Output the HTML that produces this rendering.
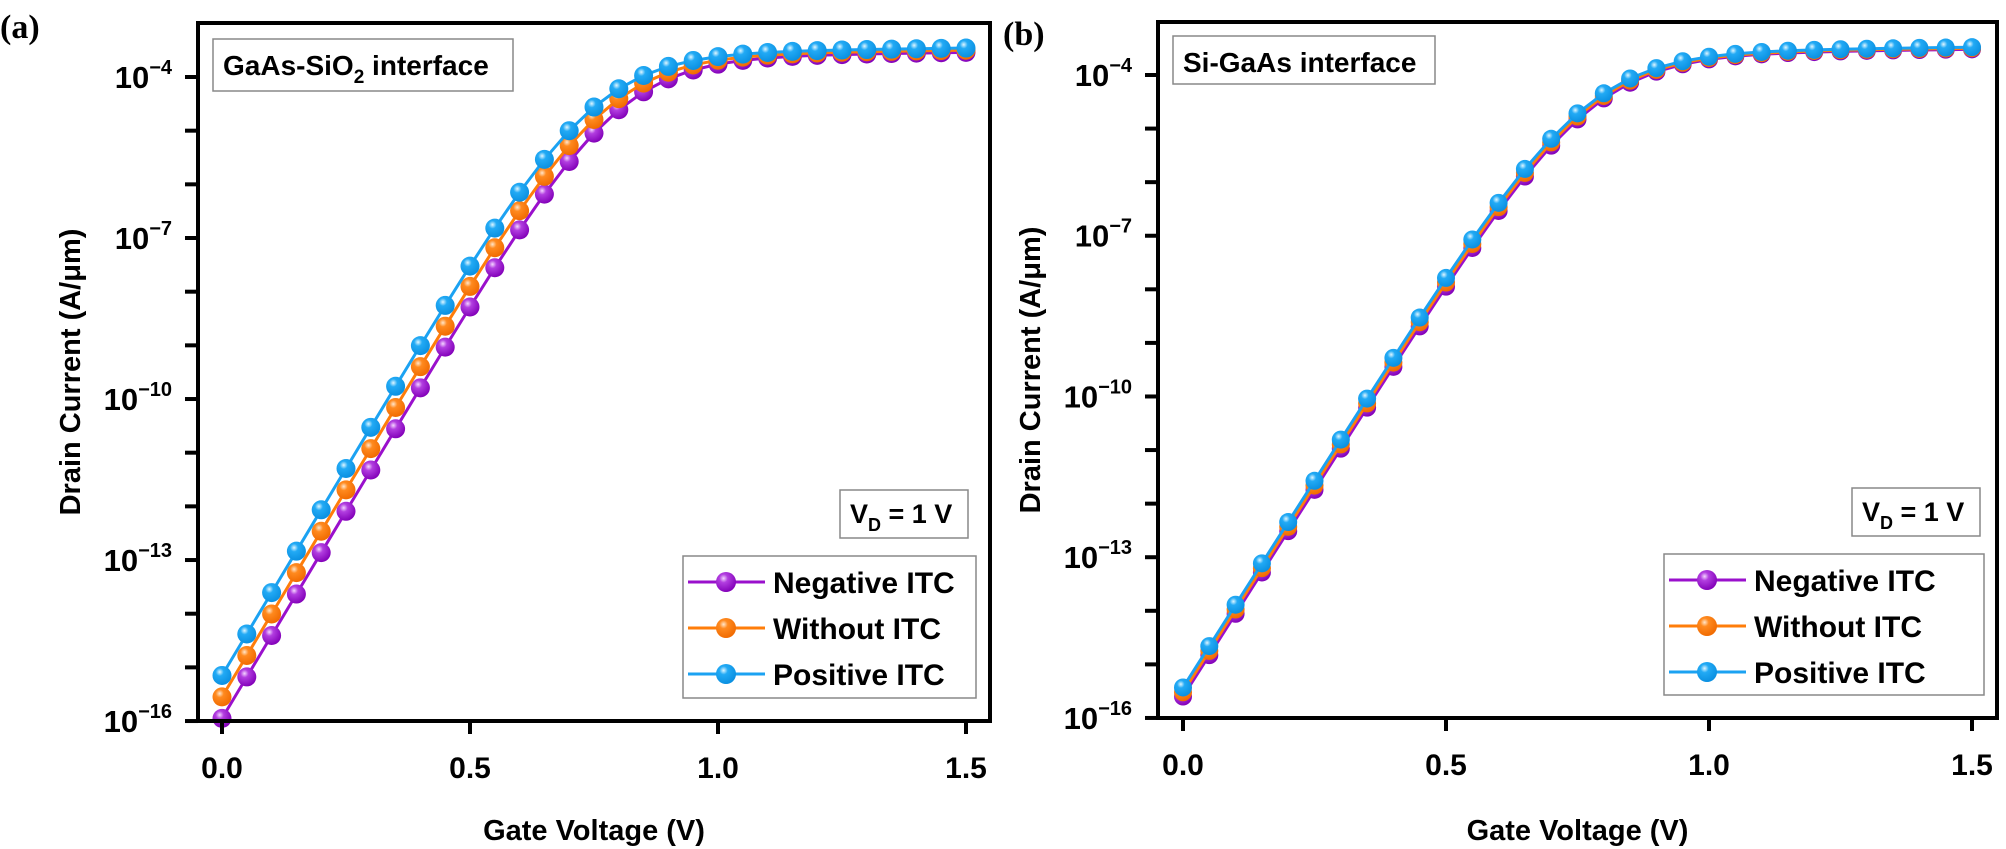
<!DOCTYPE html>
<html><head><meta charset="utf-8"><style>
html,body{margin:0;padding:0;background:#fff;}
svg{display:block;font-family:"Liberation Sans",Arial,sans-serif;font-weight:bold;}
</style></head><body>
<svg id="s" width="2006" height="849" viewBox="0 0 2006 849" xmlns="http://www.w3.org/2000/svg">
<defs>
<radialGradient id="gp" cx="0.38" cy="0.32" r="0.7"><stop offset="0" stop-color="#f4d6ff"/><stop offset="0.3" stop-color="#b23ee0"/><stop offset="1" stop-color="#8200b8"/></radialGradient>
<radialGradient id="go" cx="0.38" cy="0.32" r="0.7"><stop offset="0" stop-color="#ffe6cc"/><stop offset="0.3" stop-color="#ff8a1f"/><stop offset="1" stop-color="#f06a00"/></radialGradient>
<radialGradient id="gb" cx="0.38" cy="0.32" r="0.7"><stop offset="0" stop-color="#e0f6ff"/><stop offset="0.3" stop-color="#22aaf5"/><stop offset="1" stop-color="#0a8fe0"/></radialGradient>
</defs>
<text x="0" y="38" font-family="Liberation Serif,serif" font-size="34" font-weight="bold">(a)</text>
<text x="1003" y="45" font-family="Liberation Serif,serif" font-size="34" font-weight="bold">(b)</text>
<g id="pa"></g><g id="pb"></g>
</svg>
<script>
var NS="http://www.w3.org/2000/svg";
function el(p,t,a,txt){var e=document.createElementNS(NS,t);for(var k in a)e.setAttribute(k,a[k]);if(txt!==undefined)e.textContent=txt;p.appendChild(e);return e;}
function model(V,b,sat){var sub=b+15.45*V;var L=sat+0.12*V;var a=Math.pow(10,-0.3*sub),c=Math.pow(10,-0.3*L);return -Math.log10(a+c)/0.3;}
function panel(g,P){
 var X=function(v){return P.x0+v*P.sx;},Y=function(L){return P.y4+(-4-L)*P.sy;};
 el(g,"rect",{x:P.tb[0],y:P.tb[1],width:P.tb[2],height:P.tb[3],fill:"#fff",stroke:"#888","stroke-width":1.5});
 var t=el(g,"text",{x:P.tb[0]+10,y:P.tb[1]+36,"font-size":28});
 t.innerHTML=P.title;
 var cols=[["#9a10cc","url(#gp)"],["#ff7d0a","url(#go)"],["#1ba2f2","url(#gb)"]];
 for(var s=0;s<3;s++){
  var pts=[];for(var i=0;i<=30;i++){var v=i*0.05;pts.push([X(v),Y(model(v,P.b[s],P.sat[s]))]);}
  el(g,"polyline",{points:pts.map(function(p){return p[0].toFixed(1)+","+p[1].toFixed(1)}).join(" "),fill:"none",stroke:cols[s][0],"stroke-width":3});
  pts.forEach(function(p){el(g,"circle",{cx:p[0],cy:p[1],r:P.r,fill:cols[s][1]});});
 }
 el(g,"rect",{x:P.L,y:P.T,width:P.R-P.L,height:P.B-P.T,fill:"none",stroke:"#000","stroke-width":4});
 for(var d=-16;d<=-4;d++){var y=Y(d);el(g,"line",{x1:P.L-13,x2:P.L,y1:y,y2:y,stroke:"#000","stroke-width":4});
  if((d+16)%3==0){var tt=el(g,"text",{x:P.L-26,y:y+11,"font-size":31,"text-anchor":"end"});tt.innerHTML='10<tspan dy="-14" font-size="20">\u2212'+(-d)+'</tspan>';}}
 [0,0.5,1,1.5].forEach(function(v){var x=X(v);el(g,"line",{x1:x,x2:x,y1:P.B,y2:P.B+13,stroke:"#000","stroke-width":4});
  el(g,"text",{x:x,y:P.B+57,"font-size":30,"text-anchor":"middle"},v.toFixed(1));});
 el(g,"text",{x:(X(0)+X(1.5))/2,y:840,"font-size":29,"text-anchor":"middle"},"Gate Voltage (V)");
 var yt=el(g,"text",{x:0,y:0,"font-size":29,"text-anchor":"middle",transform:"translate("+(P.L-118)+","+((P.T+P.B)/2)+") rotate(-90)"});
 yt.innerHTML='Drain Current (A/\u03bcm)';
 el(g,"rect",{x:P.vd[0],y:P.vd[1],width:P.vd[2],height:P.vd[3],fill:"#fff",stroke:"#888","stroke-width":1.5});
 var vt=el(g,"text",{x:P.vd[0]+10,y:P.vd[1]+33,"font-size":27});vt.innerHTML='V<tspan dy="8" font-size="18">D</tspan><tspan dy="-8"> = 1 V</tspan>';
 var lg=P.lg;el(g,"rect",{x:lg[0],y:lg[1],width:lg[2],height:lg[3],fill:"#fff",stroke:"#888","stroke-width":1.5});
 var names=["Negative ITC","Without ITC","Positive ITC"];
 for(var s=0;s<3;s++){var yy=lg[1]+26+s*46;
  el(g,"line",{x1:lg[0]+5,x2:lg[0]+82,y1:yy,y2:yy,stroke:cols[s][0],"stroke-width":3});
  el(g,"circle",{cx:lg[0]+43,cy:yy,r:10,fill:cols[s][1]});
  el(g,"text",{x:lg[0]+90,y:yy+11,"font-size":30},names[s]);}
}
panel(document.getElementById("pa"),{L:198,T:23,R:990,B:721,x0:222,sx:496,y4:77,sy:53.67,r:9.5,
 b:[-15.95,-15.55,-15.15],sat:[-3.72,-3.68,-3.64],
 title:'GaAs-SiO<tspan dy="8" font-size="19">2</tspan><tspan dy="-8"> interface</tspan>',tb:[213,39,300,52],
 vd:[840,490,128,48],lg:[683,556,293,142]});
panel(document.getElementById("pb"),{L:1158,T:22,R:1997,B:718,x0:1183,sx:526,y4:75,sy:53.58,r:9,
 b:[-15.6,-15.52,-15.43],sat:[-3.7,-3.68,-3.66],
 title:'Si-GaAs interface',tb:[1173,36,262,48],
 vd:[1852,488,128,48],lg:[1664,554,320,141]});
</script>
</body></html>
